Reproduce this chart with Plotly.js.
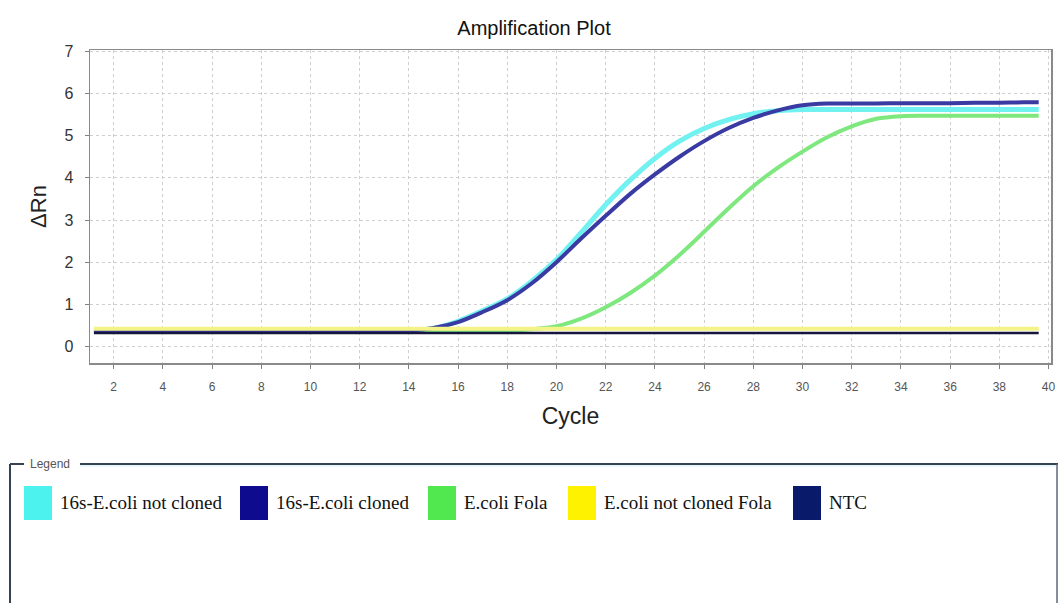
<!DOCTYPE html>
<html>
<head>
<meta charset="utf-8">
<script src="https://cdn.plot.ly/plotly-3.0.1.min.js"></script>
<style>
  html, body { margin: 0; padding: 0; background: #ffffff; }
  #chart { width: 1059px; height: 603px; }
</style>
</head>
<body>
<div id="chart"></div>
<script>
// ---------------- DATA ----------------
const seriesNames = ["16s-E.coli not cloned", "16s-E.coli cloned", "E.coli Fola", "E.coli not cloned Fola", "NTC"];

const cycles = [1.2, 2, 3, 4, 5, 6, 7, 8, 9, 10, 11, 12, 13, 14, 15, 16, 17, 18, 19, 20,
                21, 22, 23, 24, 25, 26, 27, 28, 29, 30, 31, 32, 33, 34, 35, 36, 37, 38, 39, 39.6];

const ecoli16sNotCloned = [0.36, 0.36, 0.36, 0.36, 0.36, 0.36, 0.36, 0.36, 0.36, 0.36, 0.36, 0.36, 0.36, 0.37,
                           0.43, 0.60, 0.85, 1.13, 1.55, 2.06, 2.70, 3.36, 3.95, 4.46, 4.87, 5.17, 5.38, 5.52,
                           5.59, 5.62, 5.62, 5.62, 5.62, 5.62, 5.62, 5.62, 5.62, 5.62, 5.62, 5.62];

const ecoli16sCloned = [0.37, 0.37, 0.37, 0.37, 0.37, 0.37, 0.37, 0.37, 0.37, 0.37, 0.37, 0.37, 0.37, 0.38,
                        0.44, 0.58, 0.82, 1.10, 1.50, 2.00, 2.56, 3.10, 3.62, 4.08, 4.50, 4.87, 5.18, 5.42,
                        5.60, 5.72, 5.76, 5.76, 5.76, 5.77, 5.77, 5.77, 5.78, 5.78, 5.79, 5.79];

const ecoliFola = [0.38, 0.38, 0.38, 0.38, 0.38, 0.38, 0.38, 0.38, 0.38, 0.38, 0.38, 0.38, 0.38, 0.38,
                   0.38, 0.38, 0.38, 0.38, 0.41, 0.48, 0.66, 0.93, 1.27, 1.68, 2.17, 2.72, 3.28, 3.80,
                   4.24, 4.62, 4.96, 5.22, 5.40, 5.46, 5.47, 5.47, 5.47, 5.47, 5.47, 5.47];

const ecoliNotClonedFola = [0.42, 0.42, 0.42, 0.42, 0.42, 0.42, 0.42, 0.42, 0.42, 0.42, 0.42, 0.42, 0.42, 0.42,
                            0.42, 0.42, 0.42, 0.42, 0.42, 0.42, 0.42, 0.42, 0.42, 0.42, 0.42, 0.42, 0.42, 0.42,
                            0.42, 0.42, 0.42, 0.42, 0.42, 0.42, 0.42, 0.42, 0.42, 0.42, 0.42, 0.42];

const ntc = [0.32, 0.32, 0.32, 0.32, 0.32, 0.32, 0.32, 0.32, 0.32, 0.32, 0.32, 0.32, 0.32, 0.32,
             0.32, 0.32, 0.32, 0.32, 0.32, 0.32, 0.32, 0.32, 0.32, 0.32, 0.32, 0.32, 0.32, 0.32,
             0.32, 0.32, 0.32, 0.32, 0.32, 0.32, 0.32, 0.32, 0.32, 0.32, 0.32, 0.32];

const xTickVals = [2, 4, 6, 8, 10, 12, 14, 16, 18, 20, 22, 24, 26, 28, 30, 32, 34, 36, 38, 40];
const yTickVals = [0, 1, 2, 3, 4, 5, 6, 7];

// ---------------- STYLE ----------------
const lineColors   = ["#72f1f1", "#3a3aa3", "#7ee87e", "#f3f386", "#16163c"];
const lineWidths   = [5, 4, 4, 4, 2.5];
const swatchColors = ["#4cf2ee", "#0e0b8e", "#50e84e", "#fff200", "#0a1a6b"];
const legendSwatchX = [24, 240, 428, 568, 793];   // pixel layout positions

const seriesValues = [ecoli16sNotCloned, ecoli16sCloned, ecoliFola, ecoliNotClonedFola, ntc];
const drawOrder = [0, 2, 1, 3, 4];

const W = 1059, H = 603;
const PL = 90, PR = 1051, PT = 50, PB = 363;
const px = x => (x - PL) / (PR - PL);
const py = y => (PB - y) / (PB - PT);

const traces = drawOrder.map(i => ({
  type: "scatter",
  mode: "lines",
  name: seriesNames[i],
  x: cycles,
  y: seriesValues[i],
  line: { color: lineColors[i], width: lineWidths[i], shape: "spline", smoothing: 0.9 },
  showlegend: false,
  hoverinfo: "x+y+name"
}));

const sans = "Liberation Sans, Arial, sans-serif";
const serif = "Liberation Serif, Times New Roman, serif";

const shapes = [];
const annotations = [];

// Legend group box
const frameColor = "#34434f";
shapes.push({ type: "line", xref: "paper", yref: "paper", x0: px(10), x1: px(24), y0: py(464), y1: py(464), line: { color: frameColor, width: 2 } });
shapes.push({ type: "line", xref: "paper", yref: "paper", x0: px(80), x1: px(1058), y0: py(464), y1: py(464), line: { color: frameColor, width: 2 } });
shapes.push({ type: "line", xref: "paper", yref: "paper", x0: px(80), x1: px(1056), y0: py(466), y1: py(466), line: { color: "#cdeef4", width: 1 } });
shapes.push({ type: "line", xref: "paper", yref: "paper", x0: px(10), x1: px(10), y0: py(464), y1: py(603), line: { color: frameColor, width: 2 } });
shapes.push({ type: "line", xref: "paper", yref: "paper", x0: px(1057), x1: px(1057), y0: py(464), y1: py(603), line: { color: "#5a6a78", width: 1.5 } });
annotations.push({ xref: "paper", yref: "paper", x: px(28), y: py(464), xanchor: "left", yanchor: "middle",
  text: "Legend", showarrow: false, font: { family: sans, size: 12, color: "#555555" } });

seriesNames.forEach((name, i) => {
  const x0 = legendSwatchX[i];
  shapes.push({ type: "rect", xref: "paper", yref: "paper", x0: px(x0), x1: px(x0 + 28), y0: py(486), y1: py(520),
    fillcolor: swatchColors[i], line: { color: swatchColors[i], width: 0 } });
  annotations.push({ xref: "paper", yref: "paper", x: px(x0 + 34), y: py(502), xanchor: "left", yanchor: "middle",
    text: name, showarrow: false, font: { family: serif, size: 19, color: "#111111" } });
});

const layout = {
  width: W, height: H,
  paper_bgcolor: "#ffffff", plot_bgcolor: "#ffffff",
  margin: { l: PL, r: W - PR, t: PT, b: H - PB, pad: 0 },
  title: { text: "Amplification Plot", x: 534 / W, xref: "container", xanchor: "center",
           y: 1 - 28 / H, yref: "container", yanchor: "middle",
           font: { family: sans, size: 20, color: "#111111" } },
  xaxis: {
    range: [1.04, 40.1],
    tickvals: xTickVals, ticktext: xTickVals.map(String),
    ticks: "outside", ticklen: 4, tickcolor: "#808080", tickwidth: 1,
    ticklabelstandoff: 8,
    tickfont: { family: sans, size: 12, color: "#555555" },
    showgrid: true, gridcolor: "#cfcfcf", griddash: "dot", gridwidth: 1,
    showline: true, linecolor: "#8a8a8a", linewidth: 1.5, mirror: true,
    zeroline: false,
    title: { text: "Cycle", font: { family: sans, size: 23, color: "#222222" }, standoff: 15 }
  },
  yaxis: {
    range: [-0.39, 7.03],
    tickvals: yTickVals, ticktext: yTickVals.map(String),
    ticks: "outside", ticklen: 4, tickcolor: "#808080", tickwidth: 1,
    ticklabelstandoff: 8,
    tickfont: { family: sans, size: 16, color: "#333333" },
    showgrid: true, gridcolor: "#cfcfcf", griddash: "dot", gridwidth: 1,
    showline: true, linecolor: "#8a8a8a", linewidth: 1.5, mirror: true,
    zeroline: false,
    title: { text: "ΔRn", font: { family: sans, size: 22, color: "#222222" }, standoff: 11 }
  },
  showlegend: false,
  shapes: shapes,
  annotations: annotations
};

Plotly.newPlot("chart", traces, layout, { displayModeBar: false, staticPlot: true });
</script>
</body>
</html>
